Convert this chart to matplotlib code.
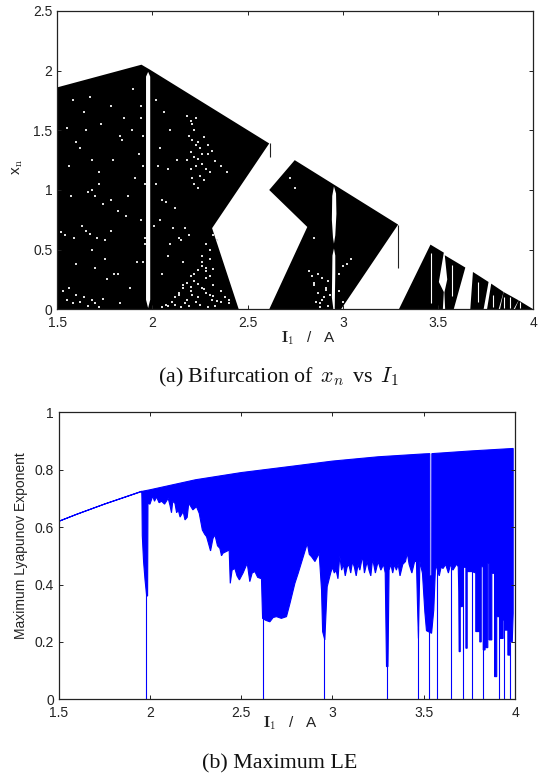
import matplotlib
matplotlib.use("Agg")
import matplotlib.pyplot as plt

plt.rcParams['font.family'] = ['Liberation Sans', 'DejaVu Sans']
plt.rcParams['mathtext.fontset'] = 'cm'

# bifurcation diagram outlines, (I1, xn)
band1_x = [1.5, 1.5, 1.942, 1.985, 2.613, 2.313, 2.453]
band1_y = [0, 1.86, 2.05, 2.01, 1.39, 0.68, 0]
band2_x = [2.613, 2.813, 2.613, 2.747, 3.29, 2.99]
band2_y = [0, 0.69, 1.0, 1.25, 0.71, 0]
piece_a_x = [3.294, 3.460, 3.530, 3.504, 3.530, 3.525]
piece_a_y = [0, 0.542, 0.475, 0.229, 0.145, 0]
piece_b_x = [3.535, 3.643, 3.582, 3.537, 3.533, 3.548]
piece_b_y = [0.453, 0.35, 0, 0, 0.14, 0.25]
piece_c_x = [3.669, 3.683, 3.765, 3.739]
piece_c_y = [0, 0.313, 0.229, 0]
piece_d_x = [3.757, 3.779, 3.844, 3.818]
piece_d_y = [0, 0.215, 0.145, 0]
piece_e_x = [3.825, 3.844, 3.923, 3.896]
piece_e_y = [0, 0.145, 0.075, 0]
piece_f_x = [3.903, 3.923, 4.0]
piece_f_y = [0, 0.075, 0]

window1_x = [1.977, 1.966, 1.966, 1.977, 1.988, 1.988]
window1_y = [1.99, 1.95, 0.08, 0.01, 0.08, 1.95]
window2_x = [2.953, 2.944, 2.942, 2.948, 2.953, 2.960, 2.966, 2.964]
window2_y = [1.03, 0.95, 0.75, 0.60, 0.55, 0.62, 0.80, 0.97]
window3_x = [2.953, 2.945, 2.942, 2.950, 2.957, 2.960, 2.960]
window3_y = [0.51, 0.45, 0.10, 0.0, 0.0, 0.30, 0.45]

# thin black lines hanging off the band corners
hang_x = [2.615, 3.29]
hang_top = [1.39, 0.71]
hang_bot = [1.28, 0.35]

# thin white stripes in the last bands
stripe_x = [3.461, 3.571, 3.708, 3.790, 3.844, 3.879, 3.928]
stripe_top = [0.47, 0.37, 0.23, 0.12, 0.10, 0.10, 0.06]
stripe_bot = [0.05, 0.11, 0.06, 0.02, 0.01, 0.01, 0.01]

# scattered gaps in the black
dots_x = [1.53, 1.55, 1.56, 1.58, 1.60, 1.62, 1.64, 1.66, 1.68, 1.70, 1.72, 1.74,
          1.52, 1.54, 1.57, 1.59, 1.63, 1.65, 1.67, 1.71, 1.75, 1.78, 1.80, 1.83,
          1.56, 1.60, 1.64, 1.68, 1.72, 1.66, 1.68, 1.70, 1.74, 1.78, 1.82, 1.86,
          1.55, 1.62, 1.67, 1.73, 1.78, 1.84, 1.89, 1.93, 1.60, 1.68, 1.75, 1.82,
          1.88, 1.92, 1.58, 1.65, 1.72, 1.79, 1.85, 1.90, 1.94, 1.70, 1.76, 1.83,
          1.87, 1.91, 1.95, 1.95, 1.96, 1.94, 1.96, 1.95, 1.94, 1.96, 2.01, 2.03,
          2.05, 2.07, 2.09, 2.02, 2.04, 2.06, 2.08, 2.12, 2.14, 2.16, 2.04, 2.08,
          2.11, 2.15, 2.02, 2.05, 2.09, 2.13, 2.17, 2.19, 2.18, 2.20, 2.21, 2.22,
          2.23, 2.24, 2.19, 2.21, 2.23, 2.25, 2.27, 2.29, 2.31, 2.33, 2.20, 2.22,
          2.24, 2.26, 2.28, 2.30, 2.21, 2.23, 2.25, 2.27, 2.18, 2.20, 2.22, 2.24,
          2.26, 2.29, 2.36, 2.39, 2.26, 2.28, 2.30, 2.32, 2.34, 2.30, 2.28, 2.26,
          2.08, 2.10, 2.12, 2.14, 2.16, 2.18, 2.20, 2.22, 2.24, 2.26, 2.28, 2.30,
          2.32, 2.12, 2.14, 2.16, 2.18, 2.20, 2.22, 2.24, 2.26, 2.28, 2.30, 2.32,
          2.34, 2.36, 2.38, 2.40, 2.15, 2.17, 2.19, 2.21, 2.23, 2.25, 2.27, 2.29,
          2.31, 2.33, 2.20, 2.24, 2.28, 2.32, 2.36, 2.40, 2.05, 2.07, 2.82, 2.85,
          2.87, 2.89, 2.91, 2.93, 2.86, 2.88, 2.90, 2.92, 2.85, 2.87, 2.89, 2.91,
          2.84, 2.88, 2.92, 2.98, 3.00, 3.02, 3.04, 2.75, 2.85, 2.98, 3.00, 2.72]
dots_y = [0.15, 0.08, 0.18, 0.05, 0.12, 0.06, 0.10, 0.03, 0.08, 0.05, 0.02, 0.09,
          0.65, 0.62, 0.95, 0.60, 0.70, 0.66, 0.63, 0.60, 0.58, 0.66, 0.30, 0.05,
          1.20, 1.40, 1.65, 1.25, 1.05, 0.98, 1.00, 0.95, 0.88, 0.92, 0.82, 0.78,
          1.52, 1.35, 1.78, 1.55, 1.70, 1.42, 1.50, 1.30, 0.38, 0.50, 0.42, 0.30,
          0.18, 0.40, 1.75, 1.50, 1.15, 1.25, 1.60, 1.85, 1.70, 0.35, 0.25, 1.45,
          0.95, 1.10, 1.20, 0.40, 0.60, 0.75, 1.05, 1.45, 1.60, 0.55, 0.70, 1.20,
          0.30, 0.90, 0.55, 1.05, 0.75, 1.65, 0.45, 0.85, 0.60, 0.40, 1.35, 1.18,
          0.68, 0.58, 1.75, 0.92, 1.50, 1.25, 0.68, 0.62, 1.62, 1.58, 1.55, 1.50,
          1.60, 1.40, 1.45, 1.42, 1.38, 1.35, 1.44, 1.30, 1.33, 1.24, 1.32, 1.28,
          1.26, 1.22, 1.18, 1.15, 1.10, 1.20, 1.12, 1.08, 1.25, 1.18, 1.05, 1.02,
          1.30, 1.38, 1.20, 1.15, 0.45, 0.55, 0.50, 0.62, 0.58, 0.42, 0.35, 0.40,
          0.03, 0.06, 0.10, 0.14, 0.18, 0.22, 0.28, 0.30, 0.33, 0.36, 0.32, 0.28,
          0.34, 0.04, 0.12, 0.20, 0.08, 0.15, 0.24, 0.10, 0.18, 0.26, 0.12, 0.20,
          0.07, 0.15, 0.10, 0.05, 0.02, 0.05, 0.03, 0.12, 0.06, 0.04, 0.17, 0.02,
          0.08, 0.03, 0.19, 0.21, 0.14, 0.11, 0.06, 0.08, 0.02, 0.04, 0.32, 0.20,
          0.30, 0.26, 0.16, 0.12, 0.06, 0.05, 0.10, 0.03, 0.22, 0.14, 0.08, 0.18,
          0.28, 0.02, 0.24, 0.30, 0.36, 0.38, 0.42, 1.02, 0.60, 0.15, 0.06, 1.10]

# Lyapunov exponent envelopes (white slit at 3.54 is part of the top edge)
le_top_x = [1.5, 1.6, 1.75, 1.96, 2.0, 2.25, 2.5, 2.79, 3.0, 3.25, 3.5, 3.533, 3.5335,
            3.544, 3.5445, 3.75, 3.99]
le_top_y = [0.62, 0.645, 0.68, 0.725, 0.73, 0.765, 0.79, 0.813, 0.83, 0.845, 0.855, 0.856, 0.43,
            0.43, 0.856, 0.865, 0.874]
le_low_x = [1.5, 1.6, 1.75, 1.955, 1.956, 1.958, 1.965, 1.973, 1.982, 1.987, 1.989, 2.0, 2.015,
            2.025, 2.036, 2.05, 2.064, 2.08, 2.10, 2.11, 2.118, 2.125, 2.137, 2.146, 2.155,
            2.165, 2.182, 2.192, 2.204, 2.212, 2.219, 2.235, 2.255, 2.27, 2.287, 2.30, 2.31,
            2.322, 2.332, 2.345, 2.356, 2.37, 2.383, 2.392, 2.40, 2.434, 2.44, 2.45, 2.465,
            2.477, 2.49, 2.51, 2.533, 2.547, 2.56, 2.575, 2.59, 2.611, 2.617, 2.635, 2.657,
            2.675, 2.693, 2.72, 2.748, 2.767, 2.794, 2.812, 2.84, 2.862, 2.873, 2.885,
            2.904, 2.927, 2.94, 2.946, 2.958, 2.971, 2.99, 3.0, 3.01, 3.02, 3.03, 3.04,
            3.05, 3.06, 3.07, 3.08, 3.09, 3.10, 3.11, 3.12, 3.13, 3.14, 3.15, 3.165, 3.175,
            3.19, 3.20, 3.21, 3.22, 3.235, 3.25, 3.265, 3.28, 3.289, 3.296, 3.304, 3.31,
            3.32, 3.33, 3.34, 3.35, 3.36, 3.37, 3.385, 3.40, 3.41, 3.42, 3.435, 3.45, 3.46,
            3.466, 3.471, 3.479, 3.493, 3.506, 3.515, 3.543, 3.555, 3.565, 3.575, 3.585,
            3.595, 3.606, 3.62, 3.635, 3.647, 3.66, 3.68, 3.689, 3.692, 3.694, 3.700, 3.700,
            3.712, 3.712, 3.731, 3.731, 3.738, 3.738, 3.765, 3.785, 3.785, 3.807, 3.807,
            3.815, 3.815, 3.826, 3.826, 3.836, 3.836, 3.851, 3.851, 3.858, 3.858, 3.873, 3.873,
            3.888, 3.888, 3.90, 3.90, 3.917, 3.917, 3.935, 3.935, 3.944, 3.944, 3.961,
            3.961, 3.972, 3.972, 3.985, 3.99]
le_low_y = [0.62, 0.645, 0.68, 0.725, 0.70, 0.57, 0.48, 0.416, 0.36, 0.36, 0.683, 0.68, 0.708,
            0.69, 0.705, 0.685, 0.69, 0.68, 0.70, 0.675, 0.65, 0.69, 0.683, 0.65, 0.66,
            0.635, 0.654, 0.625, 0.634, 0.68, 0.677, 0.66, 0.671, 0.648, 0.59, 0.575, 0.567,
            0.54, 0.517, 0.56, 0.573, 0.535, 0.526, 0.50, 0.509, 0.52, 0.404, 0.45, 0.456,
            0.43, 0.416, 0.44, 0.474, 0.41, 0.44, 0.445, 0.425, 0.42, 0.282, 0.275, 0.27,
            0.285, 0.288, 0.282, 0.288, 0.334, 0.404, 0.439, 0.497, 0.543, 0.505, 0.497,
            0.48, 0.509, 0.381, 0.236, 0.207, 0.392, 0.44, 0.46, 0.44, 0.45, 0.42, 0.50,
            0.45, 0.47, 0.43, 0.46, 0.47, 0.44, 0.48, 0.46, 0.43, 0.47, 0.45, 0.50, 0.44,
            0.48, 0.45, 0.43, 0.49, 0.44, 0.48, 0.45, 0.47, 0.44, 0.114, 0.114, 0.45,
            0.47, 0.44, 0.47, 0.45, 0.47, 0.43, 0.47, 0.48, 0.51, 0.47, 0.44, 0.48, 0.48,
            0.323, 0.212, 0.48, 0.439, 0.305, 0.239, 0.23, 0.311, 0.471, 0.45, 0.43,
            0.46, 0.456, 0.47, 0.44, 0.47, 0.45, 0.471, 0.462, 0.375, 0.166, 0.166, 0.323,
            0.323, 0.46, 0.46, 0.178, 0.178, 0.445, 0.445, 0.44, 0.236, 0.236, 0.20,
            0.20, 0.462, 0.462, 0.172, 0.172, 0.18, 0.18, 0.474, 0.474, 0.207, 0.207, 0.439,
            0.439, 0.079, 0.079, 0.288, 0.288, 0.212, 0.212, 0.276, 0.276, 0.241, 0.241,
            0.154, 0.154, 0.20, 0.20, 0.30]

spike_x = [1.977, 2.617, 2.951, 3.30, 3.471, 3.53, 3.575, 3.647, 3.716, 3.765, 3.822,
           3.911, 3.939, 3.972]
spike_top = [0.40, 0.29, 0.24, 0.12, 0.25, 0.24, 0.46, 0.46, 0.47, 0.46, 0.47, 0.30, 0.28, 0.20]

bif_xticks = [1.5, 2, 2.5, 3, 3.5, 4]
bif_xlabels = ['1.5', '2', '2.5', '3', '3.5', '4']
bif_yticks = [0, 0.5, 1, 1.5, 2, 2.5]
bif_ylabels = ['0', '0.5', '1', '1.5', '2', '2.5']
le_yticks = [0, 0.2, 0.4, 0.6, 0.8, 1]
le_ylabels = ['0', '0.2', '0.4', '0.6', '0.8', '1']

W, H = 542, 781


def make_axes(fig, left, right, top, bottom):
    ax = fig.add_axes([left / W, 1 - bottom / H, (right - left) / W, (bottom - top) / H])
    ax.tick_params(direction='in', top=True, right=True, length=3, width=0.7, labelsize=10,
                   labelcolor='#222222', color='#222222')
    ax.tick_params(axis='x', pad=5)
    ax.tick_params(axis='y', pad=3.5)
    for s in ax.spines.values():
        s.set_linewidth(0.9)
        s.set_color('#222222')
    return ax


fig = plt.figure(figsize=(W / 100, H / 100), dpi=100)

ax1 = make_axes(fig, 57.3, 533.3, 11, 309.3)
for px, py in [(band1_x, band1_y), (band2_x, band2_y), (piece_a_x, piece_a_y), (piece_b_x, piece_b_y),
               (piece_c_x, piece_c_y), (piece_d_x, piece_d_y), (piece_e_x, piece_e_y),
               (piece_f_x, piece_f_y)]:
    ax1.fill(px, py, color='black', lw=0)
ax1.vlines(hang_x, hang_bot, hang_top, color='#222222', lw=0.8)
ax1.scatter(dots_x, dots_y, s=0.6, c='#dddddd', marker='s', linewidths=0, zorder=3)
for px, py in [(window1_x, window1_y), (window2_x, window2_y), (window3_x, window3_y)]:
    ax1.fill(px, py, color='white', lw=0, zorder=4)
ax1.vlines(stripe_x, stripe_bot, stripe_top, color='white', lw=0.8, zorder=4)
ax1.set_xlim(1.5, 4)
ax1.set_ylim(0, 2.5)
ax1.set_xticks(bif_xticks, bif_xlabels)
ax1.set_yticks(bif_yticks, bif_ylabels)
fig.text(308 / W, 1 - 338 / H, r"$\mathbf{I_1}$   /   A", ha='center', va='center', fontsize=11, color='#222222')
fig.text(18 / W, 1 - 167 / H, r"x$_{\mathrm{n}}$", rotation=90, ha='center', va='center', fontsize=11, color='#222222')
fig.text(278 / W, 1 - 377 / H, r"(a) Bifurcation of $\,x_n\,$ vs $\,I_1$", ha='center', va='center', fontsize=15.8,
         family='Liberation Serif', color='#111111')

ax2 = make_axes(fig, 58.7, 515, 412.3, 699.3)
ax2.fill(le_top_x + le_low_x[::-1], le_top_y + le_low_y[::-1], facecolor='#0000ff', edgecolor='#0000ff', lw=0.8)
ax2.vlines(spike_x, 0, spike_top, color='#0000ff', lw=0.8)
ax2.set_xlim(1.5, 4)
ax2.set_ylim(0, 1)
ax2.set_xticks(bif_xticks, bif_xlabels)
ax2.set_yticks(le_yticks, le_ylabels)
fig.text(290.5 / W, 1 - 723 / H, r"$\mathbf{I_1}$   /   A", ha='center', va='center', fontsize=11, color='#222222')
fig.text(21 / W, 1 - 546 / H, "Maximum Lyapunov Exponent", rotation=90, ha='center', va='center',
         fontsize=10, color='#222222')
fig.text(280 / W, 1 - 764 / H, "(b) Maximum LE", ha='center', va='center', fontsize=15.8,
         family='Liberation Serif', color='#111111')

fig.savefig('out.png', dpi=100)
